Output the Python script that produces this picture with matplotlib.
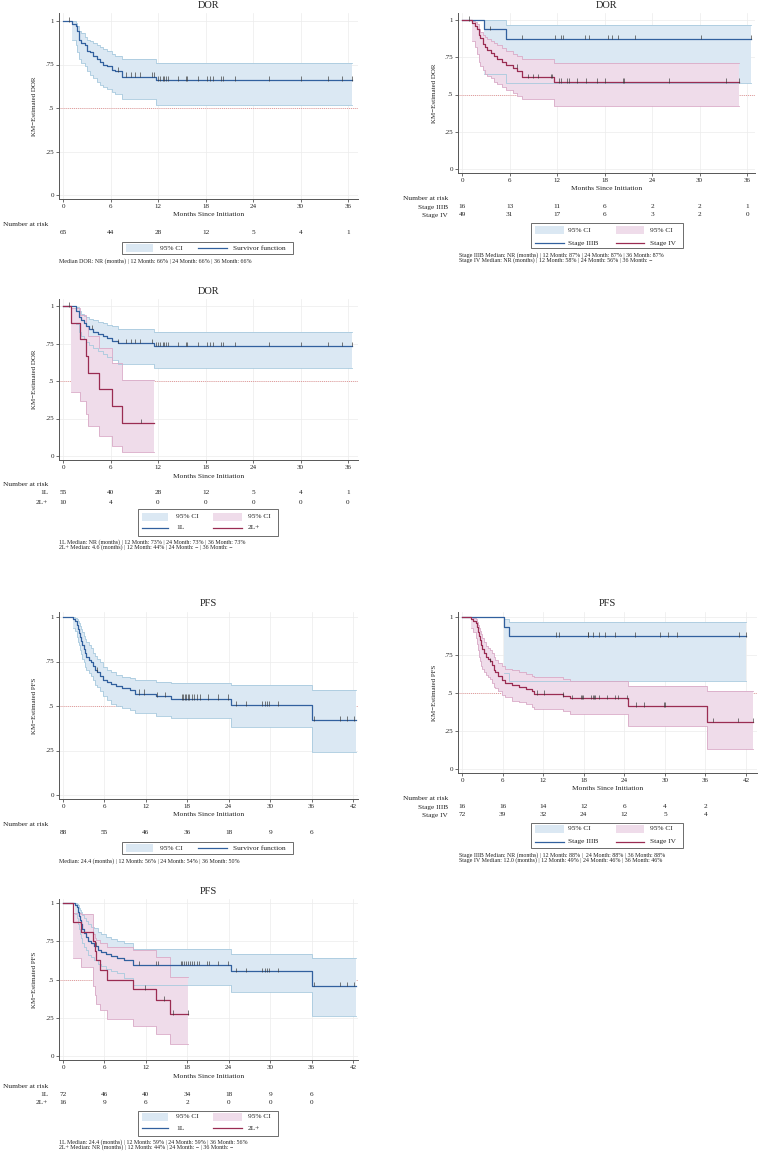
import numpy as np
import matplotlib
matplotlib.use("Agg")
import matplotlib.pyplot as plt
from matplotlib.patches import Rectangle
from matplotlib.lines import Line2D
from matplotlib.transforms import blended_transform_factory

plt.rcParams['font.family'] = ['Liberation Serif', 'DejaVu Serif']

# ---------------- data ----------------
# DOR, all patients (n=65)
dor_t = [0, 1.1, 1.6, 1.8, 2.0, 2.3, 2.8, 3.0, 3.4, 3.8, 4.3, 4.7, 5.1, 5.6, 6.2, 6.6, 7.5, 11.7]
dor_s = [1, .985, .97, .94, .89, .875, .86, .83, .82, .80, .78, .765, .75, .74, .72, .71, .68, .66]
dor_lo = [1, .89, .86, .82, .78, .76, .74, .71, .69, .67, .65, .63, .62, .61, .59, .58, .55, .52]
dor_hi = [1, 1.0, .99, .97, .94, .93, .91, .89, .885, .875, .86, .85, .84, .83, .81, .80, .78, .76]
dor_end = 36.5
dor_cens = [0.8, 7.0, 8.0, 8.6, 9.1, 9.7, 11.2, 11.5, 12.0, 12.3, 12.6, 12.8, 13.0, 13.3, 14.5,
            15.5, 15.7, 17.0, 18.2, 18.6, 19.0, 20.0, 20.2, 21.7, 26.0, 30.0, 33.5, 35.3, 36.5]
dor_risk = [65, 44, 28, 12, 5, 4, 1]

# DOR by stage
dor3_t = [0, 2.8, 5.5]
dor3_s = [1, .9375, .875]
dor3_lo = [1, .64, .575]
dor3_hi = [1, 1.0, .965]
dor3_end = 36.5
dor3_cens = [0.9, 3.5, 7.6, 11.7, 12.5, 12.7, 15.5, 16.0, 18.5, 18.9, 19.7, 21.8, 30.2, 36.5]
dor4_t = [0, 1.3, 1.6, 1.9, 2.1, 2.3, 2.6, 2.9, 3.2, 3.6, 4.0, 4.4, 5.0, 5.5, 6.5, 7.0, 7.6, 11.6]
dor4_s = [1, .98, .96, .94, .90, .88, .84, .82, .80, .78, .76, .74, .72, .70, .68, .66, .615, .584]
dor4_lo = [1, .86, .82, .77, .72, .69, .665, .64, .625, .61, .585, .57, .55, .53, .51, .49, .47, .42]
dor4_hi = [1, .995, .985, .97, .94, .92, .90, .885, .87, .86, .845, .83, .81, .79, .77, .76, .74, .71]
dor4_end = 35.0
dor4_cens = [6.9, 8.3, 9.0, 9.6, 11.2, 11.4, 12.3, 12.5, 13.3, 13.5, 14.5, 15.7, 17.1, 18.1,
             20.3, 20.5, 26.2, 33.4, 35.0]
dor_stage_risk3 = [16, 13, 11, 6, 2, 2, 1]
dor_stage_risk4 = [49, 31, 17, 6, 3, 2, 0]

# DOR by line of therapy
dor1l_t = [0, 1.7, 2.0, 2.3, 2.6, 2.9, 3.3, 3.8, 4.4, 5.0, 5.6, 6.2, 7.0, 11.5]
dor1l_s = [1, .965, .93, .91, .89, .87, .85, .83, .815, .80, .79, .77, .755, .735]
dor1l_lo = [1, .88, .83, .80, .78, .76, .74, .72, .70, .68, .66, .64, .615, .585]
dor1l_hi = [1, .995, .97, .95, .935, .925, .915, .905, .895, .885, .875, .865, .845, .83]
dor1l_end = 36.5
dor1l_cens = [0.8, 3.6, 7.0, 8.0, 8.6, 9.1, 9.7, 11.2, 11.7, 12.0, 12.3, 12.6, 12.8, 13.0, 13.3,
              14.5, 15.5, 15.7, 17.0, 18.2, 18.6, 19.0, 20.0, 20.2, 21.7, 26.0, 30.0, 33.5, 35.3, 36.5]
dor2l_t = [0, 1.0, 2.1, 2.9, 3.2, 4.6, 6.2, 7.5]
dor2l_s = [1, .889, .778, .667, .556, .444, .333, .222]
dor2l_lo = [1, .43, .37, .28, .20, .135, .07, .03]
dor2l_hi = [1, .985, .94, .87, .80, .72, .62, .51]
dor2l_end = 11.5
dor2l_cens = [9.8]
dor_line_risk1 = [55, 40, 28, 12, 5, 4, 1]
dor_line_risk2 = [10, 4, 0, 0, 0, 0, 0]

# PFS, all patients (n=88)
pfs_t = [0, 1.5, 1.8, 2.0, 2.2, 2.35, 2.5, 2.65, 2.8, 3.0, 3.2, 3.4, 3.7, 4.0, 4.3, 4.6, 4.9,
         5.3, 5.8, 6.3, 7.0, 7.7, 8.6, 9.7, 10.4, 13.5, 15.6, 24.4, 36.1]
pfs_s = [1, .989, .977, .955, .932, .909, .886, .864, .841, .818, .795, .773, .761, .75, .727,
         .705, .693, .67, .648, .636, .625, .614, .602, .591, .568, .556, .540, .504, .421]
pfs_lo = [1, .94, .92, .89, .86, .84, .815, .79, .765, .745, .72, .70, .685, .67, .645, .62,
          .605, .585, .555, .535, .51, .50, .49, .475, .46, .445, .43, .384, .243]
pfs_hi = [1, 1.0, .997, .99, .98, .965, .95, .935, .915, .895, .875, .86, .84, .825, .80, .78,
          .765, .745, .72, .70, .69, .675, .665, .655, .646, .637, .627, .618, .59]
pfs_end = 42.5
pfs_cens = [4.9, 11.0, 11.8, 13.6, 14.7, 17.2, 17.4, 17.6, 17.8, 18.1, 18.3, 18.7, 19.0, 19.4,
            19.9, 21.0, 22.4, 23.9, 25.1, 26.5, 28.8, 29.2, 29.6, 29.9, 31.1, 36.3, 40.1, 41.2, 42.1]
pfs_risk = [88, 55, 46, 36, 18, 9, 6]

# PFS by stage
pfs3_t = [0, 6.2, 7.0]
pfs3_s = [1, .9375, .875]
pfs3_lo = [1, .63, .58]
pfs3_hi = [1, .99, .967]
pfs3_end = 42.0
pfs3_cens = [13.9, 14.3, 18.6, 18.7, 19.4, 20.2, 21.2, 22.7, 25.6, 29.3, 30.5, 31.8, 41.0, 42.0]
pfs4_t = [0, 1.4, 1.7, 2.0, 2.2, 2.4, 2.55, 2.7, 2.85, 3.0, 3.3, 3.6, 3.9, 4.2, 4.4, 4.7, 4.9,
          5.3, 5.9, 6.4, 7.4, 8.4, 9.4, 10.3, 10.6, 15.0, 15.9, 24.5, 36.2]
pfs4_s = [1, .986, .972, .958, .931, .903, .875, .847, .819, .792, .764, .736, .722, .708, .681,
          .653, .639, .611, .583, .569, .555, .542, .528, .514, .493, .480, .465, .415, .311]
pfs4_lo = [1, .93, .90, .86, .82, .78, .74, .71, .68, .66, .64, .62, .605, .59, .565, .54, .53,
           .51, .49, .475, .45, .44, .425, .41, .395, .38, .36, .285, .13]
pfs4_hi = [1, 1.0, .995, .985, .97, .95, .93, .91, .885, .86, .835, .81, .795, .78, .76, .735,
           .72, .70, .675, .66, .65, .64, .625, .615, .605, .595, .58, .545, .515]
pfs4_end = 43.0
pfs4_cens = [4.2, 11.1, 12.2, 15.0, 16.2, 17.6, 17.7, 17.9, 19.1, 19.3, 19.5, 19.7, 20.3, 21.5,
             22.6, 23.0, 24.4, 25.7, 26.9, 29.8, 30.0, 37.1, 40.8, 43.0]
pfs_stage_risk3 = [16, 16, 14, 12, 6, 4, 2]
pfs_stage_risk4 = [72, 39, 32, 24, 12, 5, 4]

# PFS by line of therapy
pfs1l_t = [0, 1.8, 2.0, 2.2, 2.35, 2.5, 2.65, 2.8, 3.0, 3.3, 3.6, 4.0, 4.5, 5.0, 5.5, 6.2, 6.9,
           7.8, 8.8, 10.2, 24.4, 36.1]
pfs1l_s = [1, .986, .972, .944, .917, .889, .861, .833, .806, .778, .75, .736, .722, .694, .681,
           .667, .653, .639, .625, .597, .553, .46]
pfs1l_lo = [1, .93, .90, .86, .83, .80, .77, .74, .715, .69, .66, .645, .63, .60, .585, .57,
            .555, .54, .51, .466, .416, .26]
pfs1l_hi = [1, 1.0, .995, .985, .97, .955, .94, .92, .90, .88, .86, .845, .835, .81, .795, .78,
            .765, .75, .74, .70, .665, .64]
pfs1l_end = 42.5
pfs1l_cens = [4.8, 11.0, 13.5, 13.8, 17.1, 17.3, 17.5, 17.8, 18.1, 18.4, 18.7, 19.0, 19.4, 19.7,
              20.9, 21.1, 22.4, 23.9, 25.1, 26.5, 28.8, 29.2, 29.6, 29.9, 31.1, 36.3, 40.1, 41.1, 42.1]
pfs2l_t = [0, 1.45, 2.6, 4.4, 4.6, 4.8, 5.3, 6.3, 10.1, 13.5, 15.5]
pfs2l_s = [1, .875, .8125, .75, .6875, .625, .5625, .50, .4375, .364, .273]
pfs2l_lo = [1, .64, .58, .46, .40, .34, .30, .245, .197, .147, .081]
pfs2l_hi = [1, .935, .93, .80, .77, .76, .74, .715, .695, .65, .515]
pfs2l_end = 18.1
pfs2l_cens = [11.9, 14.6, 15.9, 18.1]
pfs_line_risk1 = [72, 46, 40, 34, 18, 9, 6]
pfs_line_risk2 = [16, 9, 6, 2, 0, 0, 0]

# ---------------- styling ----------------
W, H = 764, 1152
BLUE, RED = '#31609e', '#9a2c52'
BFILL, RFILL = '#dbe8f3', '#efdcea'
BEDGE, REDGE = '#a8cade', '#d9aac7'
TXT = '#222222'

fig = plt.figure(figsize=(W / 100, H / 100), dpi=100)


def fx(x):
    return x / W


def fy(y):
    return 1 - y / H


def make_axes(l, t, r, b, x0px, xstep_px, xmax, y1px, y0px):
    ax = fig.add_axes([fx(l), fy(b), (r - l) / W, (b - t) / H])
    ppm = xstep_px
    ax.set_xlim((l - x0px) / ppm, (r - x0px) / ppm)
    ppu = y0px - y1px
    ax.set_ylim((y0px - b) / ppu, (y0px - t) / ppu)
    ax.set_xticks(np.arange(0, xmax + 1, 6))
    ax.set_yticks([0, .25, .5, .75, 1])
    ax.set_yticklabels(['0', '.25', '.5', '.75', '1'])
    for sp in ['top', 'right']:
        ax.spines[sp].set_visible(False)
    for sp in ['left', 'bottom']:
        ax.spines[sp].set_color('#555555')
        ax.spines[sp].set_linewidth(0.7)
    ax.tick_params(direction='out', length=2, width=0.6, colors='#555555',
                   labelsize=5, labelcolor=TXT, pad=1.5)
    ax.grid(color='#ececec', lw=0.5)
    ax.set_axisbelow(True)
    ax.axhline(0.5, color='#e07a7a', lw=0.6, ls=(0, (1, 1.5)), zorder=0.8)
    return ax


def km(ax, t, s, lo, hi, end, cens, color, fill, edge, zf):
    tt = np.r_[t, end]
    ss = np.r_[s, s[-1]]
    ll = np.r_[lo, lo[-1]]
    hh = np.r_[hi, hi[-1]]
    ax.fill_between(tt[1:], ll[1:], hh[1:], step='post', color=fill, lw=0, zorder=zf)
    ax.step(tt[1:], ll[1:], where='post', color=edge, lw=0.6, zorder=3)
    ax.step(tt[1:], hh[1:], where='post', color=edge, lw=0.6, zorder=3)
    ax.step(tt, ss, where='post', color=color, lw=0.9, zorder=4)
    idx = np.searchsorted(t, cens, side='right') - 1
    sv = np.asarray(s)[idx]
    ax.vlines(cens, sv - 0.004, sv + 0.025, color='#333333', lw=0.45, zorder=5)


def decorate(ax, title, title_y, ylabel, ylab_x, xlab_y):
    pos = ax.get_position()
    cx = pos.x0 + pos.width / 2
    fig.text(cx, fy(title_y), title, ha='center', va='center', fontsize=7.5, color=TXT)
    fig.text(cx, fy(xlab_y), 'Months Since Initiation', ha='center', va='center',
             fontsize=5.4, color=TXT)
    fig.text(fx(ylab_x), pos.y0 + pos.height / 2, ylabel, rotation=90,
             ha='center', va='center', fontsize=5, color=TXT)


def risk_table(ax, head_x, head_y, rows, labels=None, label_x=None):
    fig.text(fx(head_x), fy(head_y), 'Number at risk', ha='left', va='center',
             fontsize=5.4, color=TXT)
    tr = blended_transform_factory(ax.transData, fig.transFigure)
    for i, (vals, y) in enumerate(rows):
        for k, v in enumerate(vals):
            ax.text(6 * k, fy(y), str(v), transform=tr, ha='center', va='center',
                    fontsize=5.2, color=TXT, clip_on=False)
        if labels:
            fig.text(fx(label_x), fy(y), labels[i], ha='right', va='center',
                     fontsize=5.2, color=TXT)


def legend(l, t, r, b, entries):
    fig.add_artist(Rectangle((fx(l), fy(b)), (r - l) / W, (b - t) / H,
                             transform=fig.transFigure, fill=False, ec='#555555', lw=0.6))
    for kind, x0, x1, yc, col, label, xt in entries:
        if kind == 'patch':
            fig.add_artist(Rectangle((fx(x0), fy(yc + 4)), (x1 - x0) / W, 8 / H,
                                     transform=fig.transFigure, fc=col, ec='none'))
        else:
            fig.add_artist(Line2D([fx(x0), fx(x1)], [fy(yc), fy(yc)],
                                  transform=fig.transFigure, color=col, lw=0.9))
        fig.text(fx(xt), fy(yc), label, ha='left', va='center', fontsize=5.3, color=TXT)


def footnote(x, y, lines):
    for k, line in enumerate(lines):
        fig.text(fx(x), fy(y + 5.3 * k), line, ha='left', va='center', fontsize=4.3, color=TXT)


# ---------------- panel 1: DOR overall ----------------
ax1 = make_axes(59, 13, 358, 199, 63, 285 / 36, 36, 21, 195)
km(ax1, dor_t, dor_s, dor_lo, dor_hi, dor_end, dor_cens, BLUE, BFILL, BEDGE, 1)
decorate(ax1, 'DOR', 5, 'KM\u2212Estimated DOR', 35, 215)
risk_table(ax1, 3, 224, [(dor_risk, 233)])
legend(122, 242, 293, 254, [('patch', 126, 153, 248, BFILL, '95% CI', 160),
                            ('line', 198, 227, 248, BLUE, 'Survivor function', 233)])
footnote(59, 261, ['Median DOR: NR (months) | 12 Month: 66% | 24 Month: 66% | 36 Month: 66%'])

# ---------------- panel 2: DOR by stage ----------------
ax2 = make_axes(458, 13, 755, 173, 462, 285 / 36, 36, 20, 169)
km(ax2, dor3_t, dor3_s, dor3_lo, dor3_hi, dor3_end, dor3_cens, BLUE, BFILL, BEDGE, 1)
km(ax2, dor4_t, dor4_s, dor4_lo, dor4_hi, dor4_end, dor4_cens, RED, RFILL, REDGE, 1.5)
decorate(ax2, 'DOR', 5, 'KM\u2212Estimated DOR', 435, 189)
risk_table(ax2, 403, 199, [(dor_stage_risk3, 207), (dor_stage_risk4, 215)],
           ['Stage IIIB', 'Stage IV'], 448)
legend(531, 223, 683, 248, [('patch', 535, 564, 230, BFILL, '95% CI', 568),
                            ('patch', 616, 644, 230, RFILL, '95% CI', 650),
                            ('line', 535, 564, 243, BLUE, 'Stage IIIB', 568),
                            ('line', 616, 644, 243, RED, 'Stage IV', 650)])
footnote(459, 255, ['Stage IIIB Median: NR (months) | 12 Month: 87% | 24 Month: 87% | 36 Month: 87%',
                    'Stage IV Median: NR (months) | 12 Month: 58% | 24 Month: 56% | 36 Month: \u2212'])

# ---------------- panel 3: DOR by line ----------------
ax3 = make_axes(59, 299, 358, 460, 63, 285 / 36, 36, 306, 456)
km(ax3, dor1l_t, dor1l_s, dor1l_lo, dor1l_hi, dor1l_end, dor1l_cens, BLUE, BFILL, BEDGE, 1)
km(ax3, dor2l_t, dor2l_s, dor2l_lo, dor2l_hi, dor2l_end, dor2l_cens, RED, RFILL, REDGE, 1.5)
decorate(ax3, 'DOR', 291, 'KM\u2212Estimated DOR', 35, 477)
risk_table(ax3, 3, 485, [(dor_line_risk1, 493), (dor_line_risk2, 502)], ['1L', '2L+'], 48)
legend(138, 509, 278, 536, [('patch', 142, 168, 517, BFILL, '95% CI', 176),
                            ('patch', 213, 242, 517, RFILL, '95% CI', 248),
                            ('line', 142, 168, 528, BLUE, '1L', 176),
                            ('line', 213, 242, 528, RED, '2L+', 248)])
footnote(59, 542, ['1L Median: NR (months) | 12 Month: 73% | 24 Month: 73% | 36 Month: 73%',
                   '2L+ Median: 4.6 (months) | 12 Month: 44% | 24 Month: \u2212 | 36 Month: \u2212'])

# ---------------- panel 4: PFS overall ----------------
ax4 = make_axes(59, 612, 358, 799, 63, 290 / 42, 42, 617, 795)
km(ax4, pfs_t, pfs_s, pfs_lo, pfs_hi, pfs_end, pfs_cens, BLUE, BFILL, BEDGE, 1)
decorate(ax4, 'PFS', 604, 'KM\u2212Estimated PFS', 35, 815)
risk_table(ax4, 3, 824, [(pfs_risk, 833)])
legend(122, 842, 293, 854, [('patch', 126, 153, 848, BFILL, '95% CI', 160),
                            ('line', 198, 227, 848, BLUE, 'Survivor function', 233)])
footnote(59, 861, ['Median: 24.4 (months) | 12 Month: 56% | 24 Month: 54% | 36 Month: 50%'])

# ---------------- panel 5: PFS by stage ----------------
ax5 = make_axes(458, 612, 757, 773, 462, 284 / 42, 42, 617, 769)
km(ax5, pfs3_t, pfs3_s, pfs3_lo, pfs3_hi, pfs3_end, pfs3_cens, BLUE, BFILL, BEDGE, 1)
km(ax5, pfs4_t, pfs4_s, pfs4_lo, pfs4_hi, pfs4_end, pfs4_cens, RED, RFILL, REDGE, 1.5)
decorate(ax5, 'PFS', 604, 'KM\u2212Estimated PFS', 435, 789)
risk_table(ax5, 403, 798, [(pfs_stage_risk3, 807), (pfs_stage_risk4, 815)],
           ['Stage IIIB', 'Stage IV'], 448)
legend(531, 823, 683, 848, [('patch', 535, 564, 829, BFILL, '95% CI', 568),
                            ('patch', 616, 644, 829, RFILL, '95% CI', 650),
                            ('line', 535, 564, 842, BLUE, 'Stage IIIB', 568),
                            ('line', 616, 644, 842, RED, 'Stage IV', 650)])
footnote(459, 855, ['Stage IIIB Median: NR (months) | 12 Month: 88% |  24 Month: 88% | 36 Month: 88%',
                    'Stage IV Median: 12.0 (months) | 12 Month: 49% | 24 Month: 46% | 36 Month: 46%'])

# ---------------- panel 6: PFS by line ----------------
ax6 = make_axes(59, 899, 358, 1060, 63, 290 / 42, 42, 903, 1056)
km(ax6, pfs1l_t, pfs1l_s, pfs1l_lo, pfs1l_hi, pfs1l_end, pfs1l_cens, BLUE, BFILL, BEDGE, 1)
km(ax6, pfs2l_t, pfs2l_s, pfs2l_lo, pfs2l_hi, pfs2l_end, pfs2l_cens, RED, RFILL, REDGE, 1.5)
decorate(ax6, 'PFS', 891, 'KM\u2212Estimated PFS', 35, 1077)
risk_table(ax6, 3, 1086, [(pfs_line_risk1, 1094), (pfs_line_risk2, 1102)], ['1L', '2L+'], 48)
legend(138, 1111, 278, 1136, [('patch', 142, 168, 1117, BFILL, '95% CI', 176),
                              ('patch', 213, 242, 1117, RFILL, '95% CI', 248),
                              ('line', 142, 168, 1128, BLUE, '1L', 176),
                              ('line', 213, 242, 1128, RED, '2L+', 248)])
footnote(59, 1142, ['1L Median: 24.4 (months) | 12 Month: 59% | 24 Month: 59% | 36 Month: 56%',
                    '2L+ Median: NR (months) | 12 Month: 44% | 24 Month: \u2212 | 36 Month: \u2212'])

fig.savefig('out.png', dpi=100, facecolor='white')
